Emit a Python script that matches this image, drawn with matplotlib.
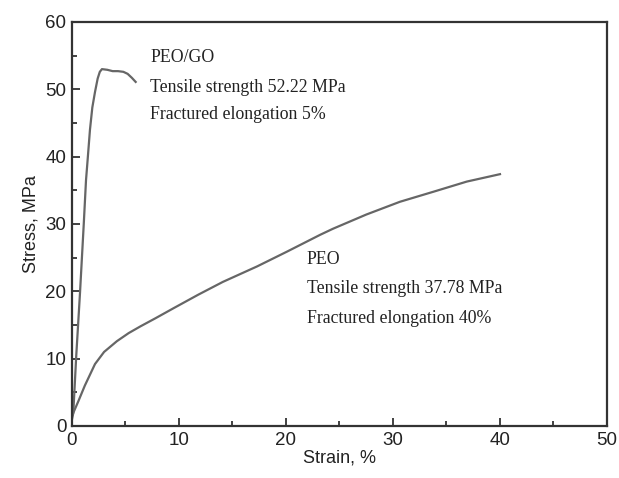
import matplotlib
matplotlib.use("Agg")
import matplotlib.pyplot as plt
from matplotlib.ticker import MultipleLocator

# PEO/GO curve
peogo_strain = [0.0, 0.12, 0.4, 0.75, 1.1, 1.31, 1.46, 1.68, 1.9, 2.15, 2.4, 2.6, 2.8, 3.3, 3.8, 4.3, 4.8, 5.2, 5.6, 5.95]
peogo_stress = [1.0, 1.9, 10.5, 19.8, 30.0, 36.5, 39.5, 44.0, 47.3, 49.6, 51.6, 52.6, 53.0, 52.9, 52.7, 52.7, 52.6, 52.3, 51.7, 51.1]

# PEO curve
peo_strain = [0.0, 0.6, 1.2, 2.15, 3.0, 4.2, 5.3, 6.4, 7.8, 9.5, 11.8, 14.1, 17.3, 20.1, 23.2, 24.4, 27.5, 30.65, 33.8, 36.9, 40.0]
peo_stress = [1.5, 3.7, 6.0, 9.2, 11.0, 12.6, 13.8, 14.8, 16.0, 17.5, 19.5, 21.4, 23.7, 25.9, 28.4, 29.3, 31.4, 33.3, 34.8, 36.3, 37.4]

x_ticks = [0, 10, 20, 30, 40, 50]
y_ticks = [0, 10, 20, 30, 40, 50, 60]

axis_color = "#333333"
line_color = "#666666"

fig = plt.figure(figsize=(6.19, 4.78), dpi=100)
ax = fig.add_axes([0.1163, 0.1088, 0.9806 - 0.1163, 0.954 - 0.1088])

ax.plot(peogo_strain, peogo_stress, color=line_color, lw=1.6)
ax.plot(peo_strain, peo_stress, color=line_color, lw=1.6)

ax.set_xlim(0, 50)
ax.set_ylim(0, 60)
ax.set_xticks(x_ticks)
ax.set_yticks(y_ticks)
ax.xaxis.set_minor_locator(MultipleLocator(5))
ax.yaxis.set_minor_locator(MultipleLocator(5))
ax.tick_params(which="major", direction="in", length=6, width=1.3, color=axis_color,
               labelsize=13.5, labelcolor="#222222", top=False, right=False, pad=4)
ax.tick_params(which="minor", direction="in", length=3.6, width=1.3, color=axis_color,
               top=False, right=False)
for lab in ax.get_xticklabels() + ax.get_yticklabels():
    lab.set_fontfamily("Liberation Sans")
for s in ax.spines.values():
    s.set_color(axis_color)
    s.set_linewidth(1.6)

ax.set_xlabel("Strain, %", fontsize=13, family="Liberation Sans", color="#222222", labelpad=1)
ax.set_ylabel("Stress, MPa", fontsize=13, family="Liberation Sans", color="#222222", labelpad=4)

serif = dict(fontsize=12.75, family="Liberation Serif", color="#222222", va="center", ha="left")
ax.text(7.29, 54.8, "PEO/GO", **serif)
ax.text(7.29, 50.2, "Tensile strength 52.22 MPa", **serif)
ax.text(7.29, 46.2, "Fractured elongation 5%", **serif)
ax.text(21.96, 24.7, "PEO", **serif)
ax.text(21.96, 20.4, "Tensile strength 37.78 MPa", **serif)
ax.text(21.96, 16.0, "Fractured elongation 40%", **serif)

fig.savefig("out.png", dpi=100)
